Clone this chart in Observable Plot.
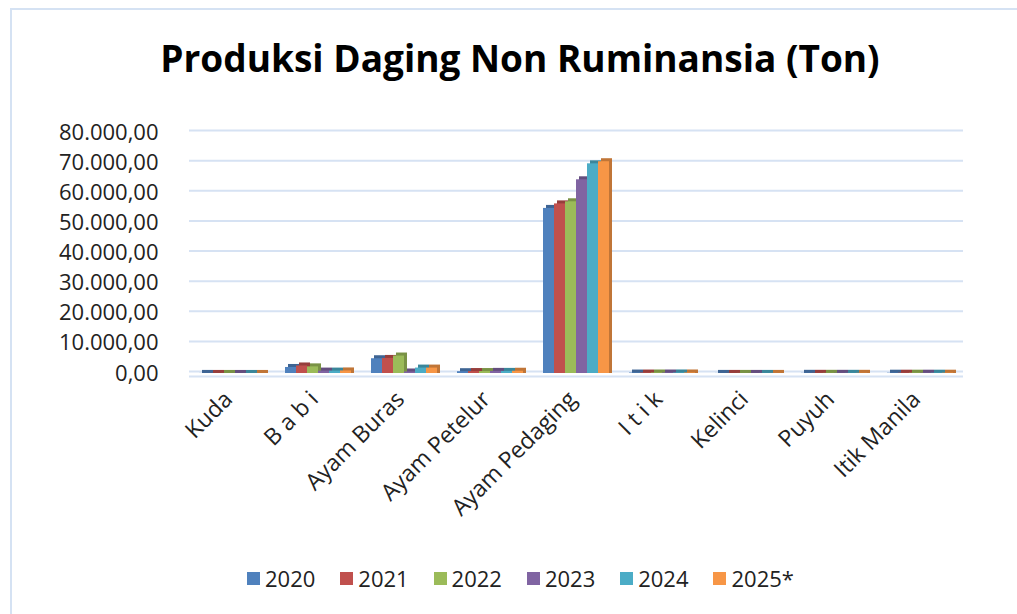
<!DOCTYPE html>
<html>
<head>
<meta charset="utf-8">
<script src="https://cdn.jsdelivr.net/npm/d3@7"></script>
<script src="https://cdn.jsdelivr.net/npm/@observablehq/plot@0.6"></script>
<style>
  html, body { margin: 0; padding: 0; background: #fff; }
  #wrap { position: relative; width: 1017px; height: 614px; overflow: hidden; font-family: "Open Sans", sans-serif; }
  #frame { position: absolute; left: 10px; top: 8px; width: 1100px; height: 700px; border: 2px solid #d5e2f3; box-sizing: border-box; }
  #title { position: absolute; left: 0; width: 1040px; top: 36px; text-align: center; font-weight: bold; font-size: 37px; color: #000; line-height: 1.2; }
  #chart { position: absolute; left: 0; top: 100px; }
  #legend { position: absolute; top: 563px; left: 247px; display: flex; font-size: 22px; color: #222; }
  #legend .item { display: flex; align-items: center; width: 93.3px; }
  #legend .sw { width: 13px; height: 13px; margin-right: 5px; }
</style>
</head>
<body>
<div id="wrap">
  <div id="frame"></div>
  <div id="title">Produksi Daging Non Ruminansia (Ton)</div>
  <div id="chart"></div>
  <div id="legend"></div>
</div>
<script>
const categories = ["Kuda", "B a b i", "Ayam Buras", "Ayam Petelur", "Ayam Pedaging", "I t i k", "Kelinci", "Puyuh", "Itik Manila"];
const years = ["2020", "2021", "2022", "2023", "2024", "2025*"];
const colors = ["#4F81BD", "#C0504D", "#9BBB59", "#8064A2", "#4BACC6", "#F79646"];
// values per year, in category order
const v2020 = [25, 2000, 4900, 600, 54800, 150, 30, 60, 100];
const v2021 = [20, 2500, 5000, 650, 56300, 150, 30, 60, 100];
const v2022 = [18, 2200, 5800, 650, 57000, 160, 30, 60, 100];
const v2023 = [15, 800, 500, 700, 64300, 160, 30, 60, 100];
const v2024 = [15, 800, 1800, 700, 69600, 170, 30, 60, 100];
const v2025 = [15, 850, 1800, 750, 70300, 170, 30, 60, 100];
const yTicks = [0, 10000, 20000, 30000, 40000, 50000, 60000, 70000, 80000];

const series = [v2020, v2021, v2022, v2023, v2024, v2025];
const data = [];
years.forEach((y, i) => categories.forEach((c, j) => data.push({cat: c, year: y, value: series[i][j]})));

const idFmt = d3.formatLocale({decimal: ",", thousands: ".", grouping: [3], currency: ["", ""]}).format(",.2f");

const barMarks = [];
years.forEach((yr, i) => {
  const sub = data.filter(d => d.year === yr);
  const dark = d3.color(colors[i]).darker(0.7).formatHex();
  barMarks.push(Plot.barY(sub, {fx: "cat", x: "year", y: "value", fill: dark, dx: 3, insetTop: -3}));
  barMarks.push(Plot.barY(sub, {fx: "cat", x: "year", y: "value", fill: colors[i]}));
});

const chart = Plot.plot({
  width: 1017,
  height: 450,
  marginTop: 32,
  marginBottom: 177,
  marginLeft: 187,
  marginRight: 52,
  style: {fontFamily: "Open Sans, sans-serif", fontSize: "22px", color: "#222", background: "transparent"},
  fx: {domain: categories, padding: 0, label: null},
  x: {domain: years, paddingInner: 0.04, paddingOuter: 0.62, axis: null},
  y: {domain: [0, 80000], ticks: yTicks, tickFormat: idFmt, tickSize: 0, tickPadding: 31, label: null},
  marks: [
    Plot.ruleY(yTicks, {stroke: "#d6e2f3", strokeWidth: 2, dy: -2}),
    Plot.ruleY([0], {stroke: "#d6e2f3", strokeWidth: 2, dy: 3}),
    ...barMarks,
    Plot.axisFx({anchor: "bottom", tickRotate: -45, tickSize: 0, tickPadding: 22, dx: -4, fontSize: 23, label: null})
  ]
});
document.getElementById("chart").appendChild(chart);

const legend = document.getElementById("legend");
years.forEach((y, i) => {
  const it = document.createElement("div");
  it.className = "item";
  it.innerHTML = `<span class="sw" style="background:${colors[i]}"></span><span>${y}</span>`;
  legend.appendChild(it);
});
</script>
</body>
</html>
